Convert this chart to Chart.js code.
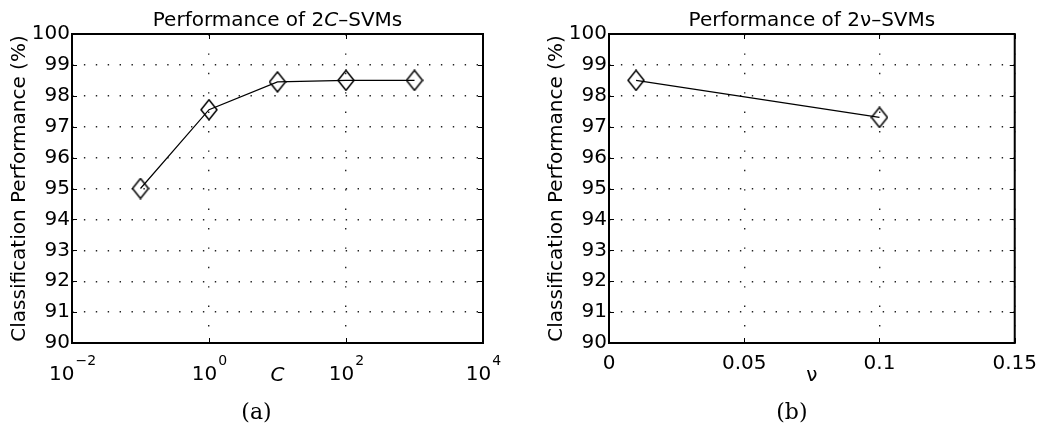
<!DOCTYPE html>
<html>
<head>
<meta charset="utf-8">
<script src="https://cdn.jsdelivr.net/npm/chart.js@4"></script>
<style>
body { margin: 0; background: #fff; }
#wrap { position: relative; width: 1046px; height: 428px; }
.box { position: absolute; top: 0; height: 428px; }
</style>
</head>
<body>
<div id="wrap">
  <div class="box" style="left:0;width:520px"><canvas id="chartC"></canvas></div>
  <div class="box" style="left:520px;width:526px"><canvas id="chartNu"></canvas></div>
</div>
<script>
// data
const cValues = [0.1, 1, 10, 100, 1000];
const cPerformance = [95.0, 97.55, 98.45, 98.5, 98.5];
const nuValues = [0.01, 0.1];
const nuPerformance = [98.5, 97.3];
const cTicks = [0.01, 1, 100, 10000];
const nuTicks = [0, 0.05, 0.1, 0.15];
const yTicks = [90, 91, 92, 93, 94, 95, 96, 97, 98, 99, 100];

const FONT = '"DejaVu Sans"';
const FS = 20;
Chart.defaults.font.family = FONT;
Chart.defaults.color = '#000';

// open diamond marker, like matlab 'd'
function diamond() {
  const c = document.createElement('canvas');
  c.width = 18; c.height = 22;
  const g = c.getContext('2d');
  g.strokeStyle = '#000';
  g.lineWidth = 1.5;
  g.beginPath();
  g.moveTo(9, 1); g.lineTo(17, 11); g.lineTo(9, 21); g.lineTo(1, 11);
  g.closePath();
  g.stroke();
  return c;
}

// frame, inward ticks, title, caption and 10^n labels
function makeDecor(cfg) {
  return {
    id: 'decor',
    afterDraw(chart) {
      const ctx = chart.ctx;
      const a = chart.chartArea;
      const xs = chart.scales.x, ys = chart.scales.y;
      ctx.save();
      ctx.strokeStyle = '#000';
      ctx.lineWidth = 1;
      ctx.beginPath();
      xs.ticks.forEach(t => {
        const px = Math.round(xs.getPixelForValue(t.value)) + 0.5;
        ctx.moveTo(px, a.bottom); ctx.lineTo(px, a.bottom - 5);
        ctx.moveTo(px, a.top); ctx.lineTo(px, a.top + 5);
      });
      ys.ticks.forEach(t => {
        const py = Math.round(ys.getPixelForValue(t.value)) + 0.5;
        ctx.moveTo(a.left, py); ctx.lineTo(a.left + 5, py);
        ctx.moveTo(a.right, py); ctx.lineTo(a.right - 5, py);
      });
      ctx.stroke();
      ctx.lineWidth = 2;
      ctx.strokeRect(a.left, a.top, a.right - a.left, a.bottom - a.top);

      // title with mixed italic
      ctx.fillStyle = '#000';
      ctx.textBaseline = 'alphabetic';
      ctx.textAlign = 'left';
      let total = 0;
      const parts = cfg.title.map(p => {
        ctx.font = (p[1] ? 'italic ' : '') + FS + 'px ' + FONT;
        const w = ctx.measureText(p[0]).width;
        total += w;
        return [p[0], p[1], w];
      });
      let x = (a.left + a.right) / 2 - total / 2;
      parts.forEach(p => {
        ctx.font = (p[1] ? 'italic ' : '') + FS + 'px ' + FONT;
        ctx.fillText(p[0], x, 26);
        x += p[2];
      });

      // caption under the panel
      ctx.font = '22px "DejaVu Serif"';
      ctx.textAlign = 'center';
      ctx.fillText(cfg.caption, (a.left + a.right) / 2 + cfg.captionShift, 419);

      // 10^n tick labels
      if (cfg.powers) {
        ctx.textAlign = 'left';
        xs.ticks.forEach(t => {
          const px = xs.getPixelForValue(t.value);
          const e = String(Math.round(Math.log10(t.value))).replace('-', '\u2212');
          ctx.font = FS + 'px ' + FONT;
          const wb = ctx.measureText('10').width;
          ctx.font = '14px ' + FONT;
          const we = ctx.measureText(e).width;
          const x0 = px - (wb + we) / 2;
          ctx.font = FS + 'px ' + FONT;
          ctx.fillText('10', x0, a.bottom + 37);
          ctx.font = '14px ' + FONT;
          ctx.fillText(e, x0 + wb + 1, a.bottom + 22);
        });
      }
      ctx.restore();
    }
  };
}

function yScale(width, titlePad) {
  return {
    min: 90, max: 100,
    afterBuildTicks: s => { s.ticks = yTicks.map(v => ({ value: v })); },
    afterFit: s => { s.width = width; },
    grid: { color: '#222', lineWidth: 1.4, drawTicks: false },
    border: { display: false, dash: [1.4, 10.5] },
    ticks: { font: { size: FS }, padding: 2 },
    title: { display: true, text: 'Classification Performance (%)', font: { size: FS }, padding: { top: titlePad, bottom: 0 } }
  };
}

const baseOptions = {
  responsive: true,
  maintainAspectRatio: false,
  animation: false,
  events: [],
  plugins: { legend: { display: false }, tooltip: { enabled: false } }
};

const mark = diamond();

new Chart(document.getElementById('chartC'), {
  type: 'line',
  data: {
    datasets: [{
      data: cValues.map((v, i) => ({ x: v, y: cPerformance[i] })),
      borderColor: '#000',
      borderWidth: 1.2,
      pointStyle: mark,
      pointRadius: 9,
      tension: 0
    }]
  },
  options: Object.assign({}, baseOptions, {
    layout: { padding: { left: 0, right: 37, top: 34, bottom: 0 } },
    scales: {
      x: {
        type: 'logarithmic',
        min: 0.01, max: 10000,
        afterBuildTicks: s => { s.ticks = cTicks.map(v => ({ value: v })); },
        afterFit: s => { s.height = 85; },
        grid: { color: '#222', lineWidth: 1.4, drawTicks: false },
        border: { display: false, dash: [1.4, 18] },
        ticks: { display: false },
        title: { display: true, text: 'C', font: { size: FS, style: 'italic' }, padding: { top: 0, bottom: 40 } }
      },
      y: yScale(72, 8)
    }
  }),
  plugins: [makeDecor({
    title: [['Performance of 2', false], ['C', true], ['\u2013SVMs', false]],
    caption: '(a)', captionShift: -21, powers: true
  })]
});

new Chart(document.getElementById('chartNu'), {
  type: 'line',
  data: {
    datasets: [{
      data: nuValues.map((v, i) => ({ x: v, y: nuPerformance[i] })),
      borderColor: '#000',
      borderWidth: 1.2,
      pointStyle: mark,
      pointRadius: 9,
      tension: 0
    }]
  },
  options: Object.assign({}, baseOptions, {
    layout: { padding: { left: 0, right: 29, top: 34, bottom: 0 } },
    scales: {
      x: {
        type: 'linear',
        min: 0, max: 0.15,
        afterBuildTicks: s => { s.ticks = nuTicks.map(v => ({ value: v })); },
        afterFit: s => { s.height = 85; },
        grid: { color: '#222', lineWidth: 1.4, drawTicks: false },
        border: { display: false, dash: [1.4, 18] },
        ticks: { font: { size: FS }, padding: 9, maxRotation: 0, callback: v => String(+v.toFixed(2)) },
        title: { display: true, text: '\u03bd', font: { size: FS }, padding: { top: 0, bottom: 40 } }
      },
      y: yScale(89, 25)
    }
  }),
  plugins: [makeDecor({
    title: [['Performance of 2\u03bd\u2013SVMs', false]],
    caption: '(b)', captionShift: -20, powers: false
  })]
});
</script>
</body>
</html>
